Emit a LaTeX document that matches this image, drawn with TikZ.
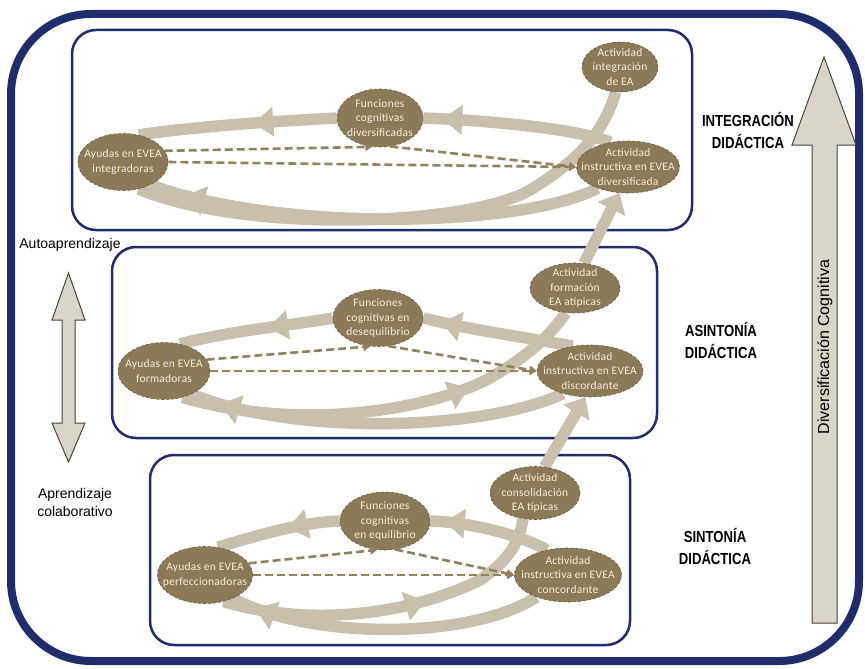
\documentclass[tikz,border=0pt]{standalone}
\usepackage{fontspec}
\setmainfont{Liberation Sans}
\newfontfamily\nodefont[LetterSpace=2]{Carlito}
\newfontfamily\headfont[FakeStretch=0.82]{Liberation Sans}
\usetikzlibrary{shapes.geometric,arrows.meta,decorations.markings}
\definecolor{navy}{HTML}{202C6C}
\definecolor{olive}{HTML}{8A7A57}
\definecolor{oliveline}{HTML}{6A5C3C}
\definecolor{bandc}{HTML}{C8BFAD}
\definecolor{dashc}{HTML}{93815C}
\definecolor{nodetext}{HTML}{F4EEDC}
\definecolor{arrowfill}{HTML}{D9D5CB}
\definecolor{arrowline}{HTML}{4A4430}
\pgfdeclarelayer{back}
\pgfsetlayers{back,main}
% ellipse with its text set on top, so the text does not widen the shape
\newcommand\ideanode[5]{%
  \node[idea, minimum width=#3pt, minimum height=#4pt] (#1) at (#2) {};
  \node[ideatext] (#1-t) at (#1) {#5};}
\begin{document}
\begin{tikzpicture}[x=1pt,y=-1pt,
  idea/.style={ellipse, fill=olive, draw=oliveline, densely dashed, line width=0.6pt, inner sep=0pt},
  ideatext/.style={inner sep=0pt, text=nodetext, align=center, font=\nodefont\fontsize{11.5}{14.5}\selectfont},
  stage/.style={draw=navy, line width=2.5pt, rounded corners=24pt},
  band/.style={draw=bandc, line width=11.5pt},
  head/.style={postaction={decorate, decoration={markings, mark=at position #1 with {\arrow[bandc]{Triangle[width=30pt,length=20pt,line width=0pt]}}}}},
  flow/.style={draw=dashc, line width=2.6pt, dash pattern=on 8pt off 4pt, -{Triangle[width=8pt,length=7pt]}},
  link/.style={draw=bandc, line width=11.5pt, -{Triangle[width=30pt,length=18pt]}},
  level/.style={align=center, font=\headfont\bfseries\fontsize{16}{22}\selectfont},
  side/.style={align=center, font=\fontsize{14}{18}\selectfont},
  bigarrow/.style={fill=arrowfill, draw=arrowline, line width=1pt, line join=miter},
]
\useasboundingbox (0,0) rectangle (865,669);

% nodes of the three stages
\ideanode{a1}{123,162}{90}{57}{Ayudas en EVEA\\integradoras}
\ideanode{f1}{380,118}{86}{58}{Funciones\\cognitivas\\diversificadas}
\ideanode{i1}{620,67}{76}{50}{Actividad\\integración\\de EA}
\ideanode{d1}{628,167}{103}{52}{Actividad\\instructiva en EVEA\\diversificada}

\ideanode{a2}{164,371}{92}{57}{Ayudas en EVEA\\formadoras}
\ideanode{f2}{378,318}{90}{57}{Funciones\\cognitivas en\\desequilibrio}
\ideanode{t2}{575,288}{90}{50}{Actividad\\formación\\EA atípicas}
\ideanode{d2}{590,371}{106}{52}{Actividad\\instructiva en EVEA\\discordante}

\ideanode{a3}{205,575}{95}{57}{Ayudas en EVEA\\perfeccionadoras}
\ideanode{f3}{385,521}{90}{58}{Funciones\\cognitivas\\en equilibrio}
\ideanode{c3}{535,493}{90}{53}{Actividad\\consolidación\\EA típicas}
\ideanode{d3}{568,575}{107}{54}{Actividad\\instructiva en EVEA\\concordante}

\begin{pgfonlayer}{back}
  % frames
  \draw[draw=navy, line width=8pt, rounded corners=80pt] (11,14) rectangle (859,661);
  \draw[stage] (72,30) rectangle (692,230);
  \draw[stage] (112,247) rectangle (657,438);
  \draw[stage] (150,455) rectangle (630,645);

  % stage 1 cycle
  \path[band, head=0.9] (d1.125) .. controls (575,128) and (480,120) .. (f1.east);
  \path[band, head=0.42] (f1.west) .. controls (300,120) and (205,125) .. (a1.60);
  \path[band, head=0.92] (d1.215) .. controls (520,228) and (280,232) .. (a1.-40);
  \path[band] (a1.-60) .. controls (250,235) and (470,225) .. (530,190) .. controls (580,160) and (605,130) .. (i1.-100);

  % stage 2 cycle
  \path[band, head=0.88] (d2.125) .. controls (530,338) and (470,330) .. (f2.east);
  \path[band, head=0.42] (f2.west) .. controls (295,325) and (235,330) .. (a2.60);
  \path[band, head=0.92] (d2.220) .. controls (480,432) and (290,435) .. (a2.-40);
  \path[band, head=0.7] (a2.-55) .. controls (300,432) and (430,410) .. (490,378) .. controls (530,355) and (550,335) .. (t2.-110);
  \path[link] (t2.70) -- (d1.-108);

  % stage 3 cycle
  \path[band, head=0.88] (d3.130) .. controls (520,535) and (470,522) .. (f3.east);
  \path[band, head=0.42] (f3.west) .. controls (305,522) and (265,533) .. (a3.65);
  \path[band, head=0.92] (d3.215) .. controls (470,640) and (310,640) .. (a3.-40);
  \path[band, head=0.6] (a3.-55) .. controls (320,630) and (420,610) .. (480,580) .. controls (510,560) and (520,540) .. (c3.-115);
  \path[link] (c3.70) -- (d2.-100);
\end{pgfonlayer}

% dashed relations
\draw[flow] (a1.east) -- (d1.west);
\draw[flow] (a1.15) -- (f1.-105);
\draw[flow] (f1.-70) -- (d1.west);
\draw[flow] (a2.east) -- (d2.west);
\draw[flow] (a2.15) -- (f2.-105);
\draw[flow] (f2.-70) -- (d2.west);
\draw[flow] (a3.east) -- (d3.west);
\draw[flow] (a3.15) -- (f3.-105);
\draw[flow] (f3.-70) -- (d3.west);

% stage names
\node[level] (lv1) at (748,130) {INTEGRACIÓN\\DIDÁCTICA};
\node[level] (lv2) at (721,340) {ASINTONÍA\\DIDÁCTICA};
\node[level] (lv3) at (715,546) {SINTONÍA\\DIDÁCTICA};

% learning axis
\node[side] (auto) at (70,245) {Autoaprendizaje};
\node[side] (colab) at (75,502) {Aprendizaje\\colaborativo};
\draw[bigarrow] (68.5,273) -- (85,320) -- (75,320) -- (75,423) -- (85,423) -- (68.5,462)
  -- (52,423) -- (62,423) -- (62,320) -- (52,320) -- cycle;

% cognitive diversification axis
\draw[bigarrow] (824,57) -- (856,145) -- (837,145) -- (837,623) -- (812,623) -- (812,145) -- (792,145) -- cycle;
\node[rotate=90, font=\fontsize{16}{18}\selectfont] (div) at (825,347) {Diversificación Cognitiva};
\end{tikzpicture}
\end{document}
